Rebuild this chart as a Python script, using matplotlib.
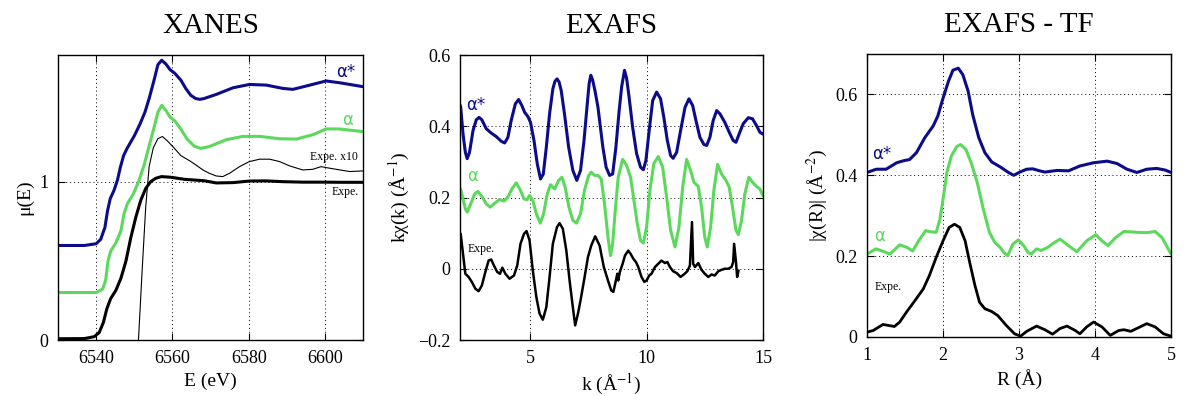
import matplotlib
matplotlib.use("Agg")
import matplotlib.pyplot as plt

plt.rcParams['font.family'] = ['Liberation Serif', 'DejaVu Serif']
plt.rcParams['mathtext.fontset'] = 'stix'

BLUE = '#0c0c8a'
GREEN = '#5cd85c'

# XANES panel
E_star = [6530, 6536.9, 6540, 6541.2, 6542.3, 6543.0, 6543.7, 6544.7, 6545.6, 6546.3, 6547.2,
          6548.2, 6550.0, 6551.5, 6552.8, 6553.9, 6555.2, 6556.2, 6557.2, 6558.3, 6559.4,
          6560.6, 6562.2, 6563.5, 6564.8, 6566.1, 6567.2, 6568.3, 6571.5, 6575.9, 6580.2,
          6584.6, 6589, 6591.6, 6595.1, 6600.3, 6603.8, 6610]
mu_star = [0.597, 0.597, 0.608, 0.636, 0.711, 0.818, 0.893, 0.946, 1.011, 1.086, 1.165,
           1.214, 1.289, 1.364, 1.439, 1.525, 1.642, 1.739, 1.767, 1.743, 1.707,
           1.685, 1.642, 1.589, 1.546, 1.525, 1.520, 1.525, 1.551, 1.593, 1.614,
           1.610, 1.589, 1.583, 1.604, 1.636, 1.625, 1.600]

E_a = [6530, 6540, 6541.7, 6542.5, 6543.1, 6543.8, 6545.2, 6546.5, 6547.3, 6548.2, 6549.8,
       6551.3, 6552.6, 6553.9, 6555.2, 6556.2, 6557.2, 6558.3, 6559.4, 6560.6, 6562.2,
       6563.9, 6565.7, 6567.4, 6569.7, 6574.1, 6578.5, 6582.9, 6588.1, 6592.5, 6596.9,
       6600.3, 6603.8, 6610]
mu_a = [0.300, 0.300, 0.321, 0.379, 0.497, 0.561, 0.615, 0.690, 0.797, 0.861, 0.925,
        1.011, 1.107, 1.225, 1.343, 1.439, 1.482, 1.450, 1.407, 1.385, 1.332,
        1.268, 1.225, 1.210, 1.222, 1.265, 1.286, 1.286, 1.271, 1.269, 1.297,
        1.333, 1.333, 1.316]

E_exp = [6530, 6536.9, 6539.5, 6540.8, 6541.9, 6542.8, 6543.8, 6545.2, 6546.5, 6547.8,
         6549.1, 6550.4, 6551.7, 6553.0, 6554.3, 6555.6, 6557.1, 6559.6, 6563.1, 6568.3,
         6571.5, 6575.9, 6580.2, 6584.6, 6589, 6594.2, 6599.5, 6604.7, 6610]
mu_exp = [0.008, 0.009, 0.021, 0.047, 0.111, 0.197, 0.261, 0.315, 0.390, 0.497,
          0.647, 0.775, 0.882, 0.957, 1.0, 1.021, 1.032, 1.028, 1.015, 1.006,
          0.992, 0.994, 1.004, 1.005, 1.0, 0.997, 0.997, 0.996, 0.996]

E_x10 = [6550.9, 6551.1, 6552.1, 6553.0, 6553.9, 6555.0, 6556.2, 6557.4, 6558.7, 6560.4,
         6562.2, 6564.8, 6566.5, 6568.0, 6569.7, 6571.5, 6573.2, 6575.0, 6577.6, 6580.2,
         6582.9, 6585.5, 6588.1, 6590.7, 6594.2, 6596.8, 6599.0, 6600.3, 6603.0, 6606.5, 6610]
mu_x10 = [-0.1, 0.0, 0.454, 0.839, 1.096, 1.214, 1.272, 1.285, 1.257, 1.214,
          1.165, 1.128, 1.100, 1.074, 1.053, 1.036, 1.032, 1.053, 1.095, 1.127,
          1.142, 1.142, 1.127, 1.100, 1.074, 1.078, 1.095, 1.089, 1.078, 1.064, 1.068]

# EXAFS panel
k_star = [1.98, 2.01, 2.11, 2.21, 2.29, 2.39, 2.54, 2.68, 2.80, 2.92, 3.11, 3.32, 3.54, 3.75,
          3.90, 4.04, 4.18, 4.36, 4.50, 4.64, 4.76, 4.90, 5.01, 5.16, 5.30, 5.44, 5.56, 5.69,
          5.83, 5.97, 6.06, 6.15, 6.24, 6.33, 6.47, 6.65, 6.83, 7.00, 7.16, 7.31, 7.45, 7.53,
          7.60, 7.68, 7.78, 7.91, 8.12, 8.26, 8.41, 8.54, 8.68, 8.82, 8.93, 9.05, 9.14, 9.25,
          9.40, 9.57, 9.74, 9.86, 9.97, 10.11, 10.26, 10.43, 10.60, 10.74, 10.89, 11.03, 11.14,
          11.29, 11.46, 11.65, 11.82, 11.98, 12.12, 12.29, 12.46, 12.58, 12.72, 12.86, 13.01,
          13.15, 13.36, 13.58, 13.72, 13.84, 13.98, 14.15, 14.37, 14.55, 14.72, 14.87, 15.0]
chi_star = [0.46, 0.454, 0.379, 0.327, 0.309, 0.327, 0.388, 0.418, 0.425, 0.418, 0.393, 0.381,
            0.371, 0.358, 0.353, 0.369, 0.416, 0.463, 0.475, 0.458, 0.439, 0.427, 0.411, 0.360,
            0.295, 0.252, 0.266, 0.341, 0.435, 0.505, 0.526, 0.533, 0.524, 0.500, 0.435, 0.341,
            0.276, 0.248, 0.276, 0.360, 0.463, 0.520, 0.543, 0.530, 0.500, 0.453, 0.341, 0.285,
            0.262, 0.266, 0.341, 0.444, 0.512, 0.557, 0.535, 0.480, 0.397, 0.323, 0.285, 0.278,
            0.304, 0.388, 0.472, 0.496, 0.477, 0.425, 0.360, 0.318, 0.310, 0.327, 0.388, 0.453,
            0.477, 0.458, 0.416, 0.369, 0.349, 0.346, 0.369, 0.416, 0.444, 0.435, 0.411, 0.379,
            0.360, 0.355, 0.379, 0.407, 0.424, 0.421, 0.402, 0.383, 0.378]

k_a = [1.98, 2.01, 2.11, 2.21, 2.29, 2.44, 2.61, 2.75, 2.92, 3.11, 3.28, 3.47, 3.68, 3.87,
       4.04, 4.21, 4.40, 4.58, 4.73, 4.86, 4.97, 5.11, 5.26, 5.43, 5.57, 5.73, 5.87, 6.05,
       6.22, 6.36, 6.50, 6.66, 6.83, 6.98, 7.16, 7.33, 7.51, 7.62, 7.76, 7.91, 8.05, 8.19,
       8.34, 8.45, 8.54, 8.64, 8.78, 8.97, 9.14, 9.31, 9.455, 9.60, 9.74, 9.86, 10.0, 10.14,
       10.31, 10.50, 10.69, 10.86, 11.03, 11.22, 11.39, 11.55, 11.72, 11.89, 12.03, 12.22,
       12.36, 12.50, 12.605, 12.75, 12.89, 13.05, 13.22, 13.41, 13.55, 13.69, 13.84, 13.94,
       14.08, 14.22, 14.39, 14.55, 14.72, 14.87, 15.0]
chi_a = [0.225, 0.224, 0.196, 0.168, 0.159, 0.182, 0.210, 0.217, 0.203, 0.182, 0.173, 0.184,
         0.194, 0.190, 0.201, 0.224, 0.241, 0.220, 0.196, 0.194, 0.206, 0.192, 0.154, 0.128,
         0.154, 0.210, 0.236, 0.224, 0.248, 0.257, 0.229, 0.173, 0.136, 0.128, 0.154, 0.220,
         0.262, 0.271, 0.262, 0.262, 0.252, 0.182, 0.089, 0.037, 0.070, 0.154, 0.257, 0.307,
         0.290, 0.257, 0.192, 0.126, 0.079, 0.072, 0.117, 0.220, 0.295, 0.315, 0.285, 0.201,
         0.108, 0.061, 0.117, 0.229, 0.307, 0.276, 0.243, 0.231, 0.173, 0.089, 0.061, 0.117,
         0.220, 0.293, 0.266, 0.248, 0.229, 0.173, 0.108, 0.096, 0.136, 0.210, 0.257, 0.243,
         0.231, 0.224, 0.205]

k_exp = [1.98, 2.01, 2.11, 2.21, 2.35, 2.49, 2.64, 2.78, 2.92, 3.07, 3.21, 3.32, 3.44, 3.58,
         3.70, 3.80, 3.93, 4.11, 4.30, 4.44, 4.58, 4.73, 4.84, 4.97, 5.11, 5.26, 5.40, 5.54,
         5.69, 5.83, 5.97, 6.15, 6.26, 6.40, 6.55, 6.69, 6.83, 6.93, 7.05, 7.16, 7.31, 7.48,
         7.62, 7.79, 7.98, 8.16, 8.34, 8.48, 8.57, 8.68, 8.74, 8.78, 8.85, 8.97, 9.07, 9.21,
         9.31, 9.43, 9.54, 9.64, 9.78, 9.90, 10.0, 10.11, 10.21, 10.36, 10.50, 10.64, 10.79,
         10.89, 11.0, 11.14, 11.29, 11.46, 11.60, 11.75, 11.86, 11.95, 12.00, 12.08, 12.22,
         12.36, 12.50, 12.65, 12.79, 12.93, 13.08, 13.22, 13.36, 13.51, 13.65, 13.72, 13.76,
         13.84, 13.89, 13.95]
chi_exp = [0.10, 0.098, 0.042, -0.014, -0.023, -0.037, -0.056, -0.063, -0.047, -0.009, 0.023,
           0.026, 0.009, -0.009, -0.014, 0.003, -0.014, -0.028, -0.019, 0.009, 0.070, 0.098,
           0.106, 0.079, -0.005, -0.079, -0.126, -0.143, -0.108, -0.023, 0.070, 0.117, 0.128,
           0.112, 0.051, -0.033, -0.108, -0.159, -0.126, -0.089, -0.033, 0.033, 0.065, 0.091,
           0.065, 0.005, -0.033, -0.061, -0.065, -0.033, -0.014, -0.033, -0.009, 0.014, 0.037,
           0.051, 0.042, 0.028, 0.019, 0.005, -0.023, -0.037, -0.033, -0.019, -0.014, 0.005,
           0.014, 0.023, 0.016, 0.019, 0.005, -0.007, -0.012, -0.023, -0.016, -0.007, 0.009,
           0.131, 0.014, 0.005, 0.016, -0.003, -0.014, -0.023, -0.016, -0.019, -0.007, -0.003,
           0.0, 0.0, 0.005, 0.019, 0.070, 0.019, -0.023, -0.005]

# EXAFS - TF panel
R_star = [1.0, 1.12, 1.25, 1.39, 1.48, 1.56, 1.65, 1.76, 1.87, 1.93, 2.0, 2.07, 2.13, 2.20,
          2.26, 2.33, 2.39, 2.47, 2.55, 2.64, 2.75, 2.86, 2.93, 3.01, 3.10, 3.18, 3.27, 3.34,
          3.42, 3.50, 3.65, 3.80, 3.98, 4.16, 4.29, 4.42, 4.55, 4.68, 4.81, 4.92, 5.0]
ft_star = [0.407, 0.415, 0.415, 0.431, 0.436, 0.439, 0.456, 0.493, 0.522, 0.546, 0.591, 0.632,
           0.660, 0.665, 0.649, 0.608, 0.550, 0.493, 0.456, 0.433, 0.421, 0.407, 0.400, 0.408,
           0.415, 0.416, 0.411, 0.408, 0.410, 0.412, 0.411, 0.423, 0.431, 0.435, 0.429, 0.415,
           0.407, 0.415, 0.417, 0.413, 0.407]

R_a = [1.0, 1.06, 1.12, 1.21, 1.30, 1.43, 1.52, 1.60, 1.68, 1.77, 1.85, 1.91, 1.96, 2.0,
       2.05, 2.11, 2.18, 2.23, 2.30, 2.37, 2.45, 2.53, 2.61, 2.68, 2.75, 2.80, 2.85, 2.92,
       2.99, 3.06, 3.12, 3.16, 3.23, 3.29, 3.38, 3.45, 3.54, 3.65, 3.76, 3.89, 4.01, 4.09,
       4.17, 4.27, 4.38, 4.55, 4.68, 4.79, 4.88, 5.0]
ft_a = [0.205, 0.212, 0.218, 0.212, 0.205, 0.228, 0.222, 0.213, 0.238, 0.263, 0.260, 0.259,
        0.292, 0.341, 0.407, 0.448, 0.471, 0.476, 0.464, 0.431, 0.382, 0.316, 0.259, 0.234,
        0.222, 0.209, 0.201, 0.230, 0.240, 0.226, 0.209, 0.205, 0.218, 0.214, 0.222, 0.232,
        0.242, 0.226, 0.211, 0.238, 0.253, 0.238, 0.226, 0.246, 0.261, 0.259, 0.258, 0.261,
        0.246, 0.205]

R_exp = [1.0, 1.08, 1.21, 1.36, 1.43, 1.52, 1.63, 1.74, 1.82, 1.91, 2.0, 2.08, 2.15, 2.22,
         2.29, 2.35, 2.42, 2.48, 2.55, 2.64, 2.72, 2.83, 2.94, 3.02, 3.10, 3.23, 3.34, 3.44,
         3.54, 3.63, 3.74, 3.80, 3.89, 3.98, 4.09, 4.20, 4.31, 4.38, 4.47, 4.57, 4.68, 4.79,
         4.90, 5.0]
ft_exp = [0.012, 0.016, 0.031, 0.026, 0.037, 0.062, 0.090, 0.119, 0.152, 0.197, 0.238, 0.271,
          0.279, 0.271, 0.238, 0.185, 0.127, 0.086, 0.070, 0.063, 0.053, 0.029, 0.008, 0.002,
          0.014, 0.027, 0.018, 0.007, 0.021, 0.027, 0.016, 0.008, 0.025, 0.037, 0.025, 0.004,
          0.016, 0.018, 0.014, 0.023, 0.033, 0.025, 0.008, 0.002]

fig = plt.figure(figsize=(11.84, 3.96), dpi=100)
ax1 = fig.add_axes([0.0490, 0.1414, 0.2576, 0.7197])
ax2 = fig.add_axes([0.3885, 0.1414, 0.2559, 0.7197])
ax3 = fig.add_axes([0.7323, 0.1490, 0.2568, 0.7146])


def style(ax):
    ax.tick_params(direction='in', top=True, right=True, length=5, width=0.8, labelsize=13, pad=7)
    ax.grid(True, color='black', linestyle=(0, (1, 3)), linewidth=0.7)
    for s in ax.spines.values():
        s.set_linewidth(1.0)


lab = dict(family=['DejaVu Sans'], fontsize=12)
kw = dict(solid_joinstyle='round', solid_capstyle='round')

ax1.plot(E_x10, mu_x10, color='black', lw=0.8, **kw)
ax1.plot(E_exp, mu_exp, color='black', lw=2.2, **kw)
ax1.plot(E_a, mu_a, color=GREEN, lw=2.2, **kw)
ax1.plot(E_star, mu_star, color=BLUE, lw=2.2, **kw)
ax1.set_xlim(6530, 6610)
ax1.set_ylim(0, 1.8)
ax1.set_xticks([6540, 6560, 6580, 6600])
ax1.set_yticks([0, 1])
ax1.set_yticklabels(['0', '1'])
ax1.set_xlabel('E (eV)', fontsize=14)
ax1.set_ylabel('μ(E)', fontsize=14)
ax1.set_title('XANES', fontsize=21, pad=16)
ax1.text(6605.6, 1.69, 'α*', color=BLUE, ha='center', va='center', **lab)
ax1.text(6606, 1.39, 'α', color=GREEN, ha='center', va='center', **lab)
ax1.text(6602.3, 1.155, 'Expe. x10', fontsize=8.5, ha='center', va='center')
ax1.text(6605.4, 0.936, 'Expe.', fontsize=8.5, ha='center', va='center')
style(ax1)

ax2.plot(k_exp, chi_exp, color='black', lw=1.8, **kw)
ax2.plot(k_a, chi_a, color=GREEN, lw=2.2, **kw)
ax2.plot(k_star, chi_star, color=BLUE, lw=2.2, **kw)
ax2.set_xlim(1.98, 15)
ax2.set_ylim(-0.2, 0.6)
ax2.set_xticks([5, 10, 15])
ax2.set_yticks([-0.2, 0, 0.2, 0.4, 0.6])
ax2.set_yticklabels(['−0.2', '0', '0.2', '0.4', '0.6'])
ax2.set_xlabel('k (Å$^{-1}$)', fontsize=14)
ax2.set_ylabel('kχ(k) (Å$^{-1}$)', fontsize=14)
ax2.set_title('EXAFS', fontsize=21, pad=16)
ax2.text(2.66, 0.459, 'α*', color=BLUE, ha='center', va='center', **lab)
ax2.text(2.51, 0.259, 'α', color=GREEN, ha='center', va='center', **lab)
ax2.text(2.87, 0.056, 'Expe.', fontsize=8.5, ha='center', va='center')
style(ax2)

ax3.plot(R_exp, ft_exp, color='black', lw=2.0, **kw)
ax3.plot(R_a, ft_a, color=GREEN, lw=2.2, **kw)
ax3.plot(R_star, ft_star, color=BLUE, lw=2.2, **kw)
ax3.set_xlim(1, 5)
ax3.set_ylim(0, 0.7)
ax3.set_xticks([1, 2, 3, 4, 5])
ax3.set_yticks([0, 0.2, 0.4, 0.6])
ax3.set_yticklabels(['0', '0.2', '0.4', '0.6'])
ax3.set_xlabel('R (Å)', fontsize=14)
ax3.set_ylabel('|χ(R)| (Å$^{-2}$)', fontsize=14)
ax3.set_title('EXAFS - TF', fontsize=21, pad=16)
ax3.text(1.19, 0.452, 'α*', color=BLUE, ha='center', va='center', **lab)
ax3.text(1.17, 0.25, 'α', color=GREEN, ha='center', va='center', **lab)
ax3.text(1.28, 0.123, 'Expe.', fontsize=8.5, ha='center', va='center')
style(ax3)

fig.savefig('out.png', dpi=100)
